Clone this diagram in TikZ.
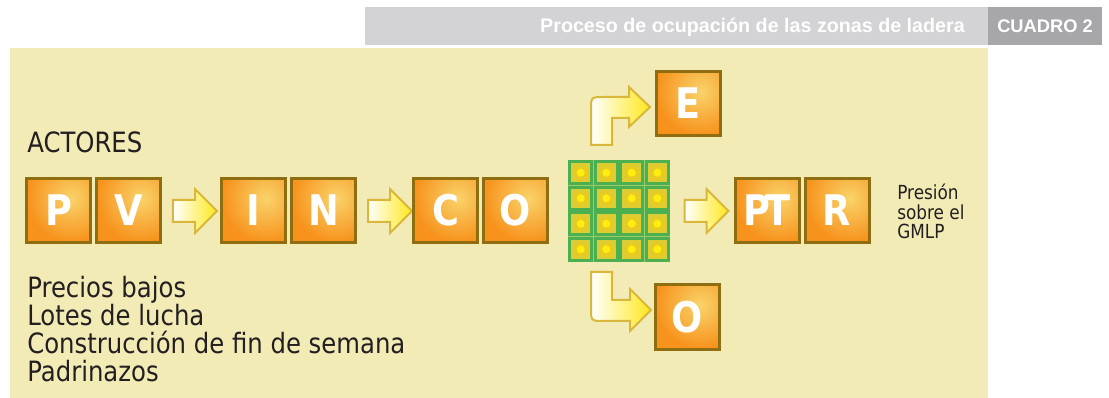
\documentclass[tikz,border=0pt]{standalone}
\usepackage{fontspec}
\setmainfont[FakeStretch=0.87]{DejaVu Sans}
\newfontfamily\headfont{Liberation Sans}
\usetikzlibrary{shapes.arrows, positioning}

\definecolor{headgrey}{HTML}{D3D3D5}
\definecolor{headdark}{HTML}{A7A7AA}
\definecolor{panel}{HTML}{F2EBB6}
\definecolor{boxorange}{HTML}{F7921C}
\definecolor{boxedge}{HTML}{8E6E10}
\definecolor{boxglow}{HTML}{F9D36A}
\definecolor{arrowyellow}{HTML}{FFE81C}
\definecolor{arrowedge}{HTML}{D9B73A}
\definecolor{cellgreen}{HTML}{4CAF50}
\definecolor{cellfill}{HTML}{CBD04B}
\definecolor{gridbg}{HTML}{9ACB6C}
\definecolor{dotyellow}{HTML}{F6C80E}
\definecolor{dotcore}{HTML}{FFEE10}
\definecolor{textdark}{HTML}{231F20}

\tikzset{
  letterbox/.style={rectangle, minimum size=1.6cm, inner sep=0pt, draw=boxedge,
    line width=0.075cm, fill=boxorange, text=white,
    font=\bfseries\fontsize{30}{30}\selectfont,
    path picture={\shade[inner color=boxglow, outer color=boxorange]
      ([xshift=-0.47cm, yshift=-0.5cm]path picture bounding box.north east) circle (1.1cm);}},
  fatarrow/.style={single arrow, draw=arrowedge, line width=0.05cm, left color=white,
    right color=arrowyellow, inner sep=0pt, text height=0.5cm, text depth=0pt,
    minimum height=1.1cm, single arrow head extend=0.27cm},
  bentarrow/.style={draw=arrowedge, line width=0.05cm, left color=white, right color=arrowyellow},
  gridbox/.style={rectangle, minimum size=2.55cm, inner sep=0pt, fill=gridbg},
  cell/.style={rectangle, minimum size=0.55cm, inner sep=0pt, draw=cellgreen,
    line width=0.065cm, fill=cellfill,
    path picture={\shade[inner color=dotyellow, outer color=cellfill]
      (path picture bounding box.center) circle (0.4cm);
      \fill[dotcore] (path picture bounding box.center) circle (0.1cm);}},
  headtext/.style={inner sep=0pt, text=white, font=\headfont\bfseries\fontsize{14}{14}\selectfont},
  bodytext/.style={anchor=base west, inner sep=0pt, text=textdark, font=\fontsize{19.9}{19.7}\selectfont},
  smalltext/.style={anchor=base west, inner sep=0pt, text=textdark, font=\fontsize{13.8}{13.9}\selectfont}
}

\begin{document}
\begin{tikzpicture}[x=0.025cm, y=-0.025cm]
  \useasboundingbox (0,0) rectangle (1109,398);

  % cabecera
  \fill[headgrey] (365,7) rectangle (988,45);
  \fill[headdark] (988,7) rectangle (1102,45);
  \node[headtext, anchor=base east] (titulo) at (965,33) {Proceso de ocupación de las zonas de ladera};
  \node[headtext, anchor=base, font=\headfont\bfseries\fontsize{13}{13}\selectfont] (cuadro) at (1045,33) {CUADRO 2};

  % fondo
  \fill[panel] (10,48) rectangle (988,398);

  \node[bodytext] (actores) at (27,153) {ACTORES};

  % fila de actores
  \node[letterbox] (P) at (58.5,210.5) {P};
  \node[letterbox, right=0.075cm of P] (V) {V};
  \node[fatarrow] (a1) at (189.5,211) {};
  \node[letterbox] (I) at (253.5,210.5) {I};
  \node[letterbox, right=0.075cm of I] (N) {N};
  \node[fatarrow] (a2) at (384.5,211) {};
  \node[letterbox] (C) at (445.5,210.5) {C};
  \node[letterbox, right=0.075cm of C] (O) {O};

  % malla de lotes
  \node[gridbox] (grid) at (619,211) {};
  \foreach \i in {0,...,3}
    \foreach \j in {0,...,3}
      \node[cell] (c\i\j) at (580.75+25.5*\i, 172.75+25.5*\j) {};

  \node[fatarrow] (a3) at (701,211) {};
  \node[letterbox] (PT) at (767,210.5) {P\kern-0.12em T};
  \node[letterbox, right=0.075cm of PT] (R) {R};

  \node[letterbox] (E) at (688,103.5) {E};
  \node[letterbox] (Osal) at (687.5,317) {O};

  % flechas quebradas
  \draw[bentarrow] (591,145) -- (591,110) .. controls (591,97) .. (604,97) -- (629,97)
    -- (629,87) -- (650,107) -- (629,127) -- (629,118) -- (612,118) -- (612,145) -- cycle;
  \draw[bentarrow] (591,272) -- (612,272) -- (612,300) -- (630,300) -- (630,289)
    -- (651,310) -- (630,331) -- (630,321) -- (604,321) .. controls (591,321) .. (591,308) -- cycle;

  \foreach \txt [count=\k from 0] in {Presión, sobre el, GMLP}
    \node[smalltext] (pres\k) at (897,200+19.5*\k) {\txt};

  \foreach \txt [count=\k from 0] in {Precios bajos, Lotes de lucha, Construcción de fin de semana, Padrinazos}
    \node[bodytext] (linea\k) at (27,298+27.7*\k) {\txt};
\end{tikzpicture}
\end{document}
